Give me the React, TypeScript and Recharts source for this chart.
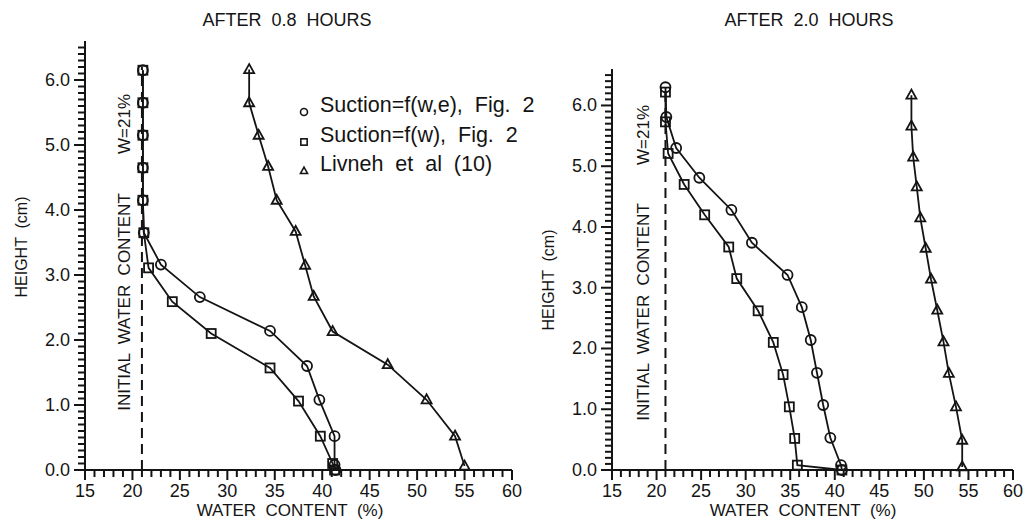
import React from 'react';
import { LineChart, Line, XAxis, YAxis, ReferenceLine, Legend } from 'recharts';

const FONT = "'Liberation Sans', Arial, sans-serif";
const INK = '#141414';

// axis ticks
const waterMajorTicks = [15, 20, 25, 30, 35, 40, 45, 50, 55, 60];
const heightMajorTicks = [0, 1, 2, 3, 4, 5, 6];
const waterTicks: number[] = [];
for (let w = 15; w <= 60; w++) waterTicks.push(w);
const heightTicks: number[] = [];
for (let i = 0; i <= 65; i++) heightTicks.push(i / 10);

const initialWater = 21;

const seriesNames = ['Suction=f(w,e),  Fig.  2', 'Suction=f(w),  Fig.  2', 'Livneh  et  al  (10)'];
const seriesShapes = ['circle', 'square', 'triangle'];

// after 0.8 hours
const h08Circle = [6.15, 5.65, 5.15, 4.65, 4.15, 3.65, 3.16, 2.66, 2.14, 1.6, 1.08, 0.52, 0.08, 0.0];
const w08Circle = [21.1, 21.1, 21.1, 21.1, 21.1, 21.2, 23.0, 27.1, 34.5, 38.4, 39.7, 41.3, 41.3, 41.4];
const h08Square = [6.15, 5.65, 5.15, 4.65, 4.15, 3.65, 3.11, 2.59, 2.1, 1.57, 1.06, 0.52, 0.1, 0.0];
const w08Square = [21.1, 21.1, 21.1, 21.1, 21.1, 21.2, 21.7, 24.2, 28.3, 34.5, 37.5, 39.8, 41.1, 41.3];
const h08Tri = [6.16, 5.65, 5.15, 4.67, 4.15, 3.67, 3.15, 2.67, 2.13, 1.62, 1.08, 0.52, 0.06];
const w08Tri = [32.3, 32.3, 33.3, 34.3, 35.2, 37.2, 38.2, 39.1, 41.1, 46.9, 51.0, 54.0, 55.0];

// after 2.0 hours
const h20Circle = [6.3, 5.81, 5.3, 4.81, 4.28, 3.74, 3.21, 2.68, 2.14, 1.6, 1.07, 0.53, 0.08, 0.0];
const w20Circle = [21.0, 21.1, 22.2, 24.8, 28.4, 30.7, 34.7, 36.3, 37.3, 38.0, 38.7, 39.5, 40.7, 40.8];
const h20Square = [6.22, 5.73, 5.21, 4.7, 4.2, 3.67, 3.15, 2.62, 2.1, 1.57, 1.04, 0.52, 0.08, 0.0];
const w20Square = [21.0, 21.0, 21.3, 23.1, 25.4, 28.1, 29.0, 31.4, 33.1, 34.2, 34.9, 35.5, 35.8, 40.8];
const h20Tri = [6.17, 5.66, 5.15, 4.66, 4.15, 3.65, 3.14, 2.63, 2.11, 1.59, 1.04, 0.49, 0.05];
const w20Tri = [48.6, 48.6, 48.8, 49.2, 49.6, 50.2, 50.8, 51.5, 52.2, 52.8, 53.6, 54.3, 54.3];

const toPoints = (h: number[], w: number[]) => h.map((v, i) => ({ h: v, w: w[i] }));

const panel08 = [toPoints(h08Circle, w08Circle), toPoints(h08Square, w08Square), toPoints(h08Tri, w08Tri)];
const panel20 = [toPoints(h20Circle, w20Circle), toPoints(h20Square, w20Square), toPoints(h20Tri, w20Tri)];

function Marker({ cx, cy, shape, size, sw = 1.8 }: any) {
  if (cx == null || cy == null) return null;
  const common = { fill: 'none', stroke: INK, strokeWidth: sw };
  if (shape === 'circle') return <circle cx={cx} cy={cy} r={size} {...common} />;
  if (shape === 'square')
    return <rect x={cx - size * 0.9} y={cy - size * 0.9} width={size * 1.8} height={size * 1.8} {...common} />;
  return (
    <polygon
      points={`${cx},${cy - size * 1.1} ${cx - size},${cy + size * 0.7} ${cx + size},${cy + size * 0.7}`}
      {...common}
    />
  );
}

const isMajor = (v: number, majors: number[]) => majors.some(m => Math.abs(m - v) < 1e-6);

function WaterTick(props: any) {
  const { x, y, payload } = props;
  const major = isMajor(payload.value, waterMajorTicks);
  return (
    <g>
      <line x1={x} x2={x} y1={y} y2={y + (major ? 10 : 7)} stroke={INK} strokeWidth={2} />
      {major && (
        <text x={x} y={y + 21} textAnchor="middle" dominantBaseline="central" fontSize={18} fontFamily={FONT} fill={INK}>
          {payload.value}
        </text>
      )}
    </g>
  );
}

function HeightTick(props: any) {
  const { x, y, payload } = props;
  const major = isMajor(payload.value, heightMajorTicks);
  return (
    <g>
      <line x1={x - (major ? 11 : 7)} x2={x} y1={y} y2={y} stroke={INK} strokeWidth={2} />
      {major && (
        <text x={x - 15} y={y} textAnchor="end" dominantBaseline="central" fontSize={18} fontFamily={FONT} fill={INK}>
          {payload.value.toFixed(1)}
        </text>
      )}
    </g>
  );
}

function LegendBox({ payload }: any) {
  return (
    <div style={{ fontFamily: FONT, fontSize: 21.5, color: INK }}>
      {(payload || []).map((entry: any) => {
        const shape = seriesShapes[seriesNames.indexOf(entry.value)];
        return (
          <div key={entry.value} style={{ display: 'flex', alignItems: 'center', height: 29.5 }}>
            <svg width={24} height={29} style={{ flex: 'none' }}>
              <Marker cx={8} cy={21} shape={shape} size={3.5} sw={1.6} />
            </svg>
            <span style={{ whiteSpace: 'pre' }}>{entry.value}</span>
          </div>
        );
      })}
    </div>
  );
}

function Panel({ data, width, axisWidth, top, right, dashTop, legend }: any) {
  return (
    <LineChart width={width} height={523} margin={{ top, right, bottom: 0, left: 0 }}>
      <XAxis
        type="number"
        dataKey="w"
        domain={[15, 60]}
        ticks={waterTicks}
        interval={0}
        height={53}
        tickSize={0}
        tickMargin={0}
        tickLine={false}
        tick={WaterTick}
        axisLine={{ stroke: INK, strokeWidth: 2 }}
      />
      <YAxis
        type="number"
        domain={[0, 6.6]}
        ticks={heightTicks}
        interval={0}
        width={axisWidth}
        tickSize={0}
        tickMargin={0}
        tickLine={false}
        tick={HeightTick}
        axisLine={{ stroke: INK, strokeWidth: 2 }}
      />
      <ReferenceLine
        segment={[{ x: initialWater, y: 0 }, { x: initialWater, y: dashTop }]}
        stroke={INK}
        strokeWidth={2}
        strokeDasharray="10 6"
      />
      {data.map((pts: any, i: number) => (
        <Line
          key={seriesNames[i]}
          name={seriesNames[i]}
          data={pts}
          dataKey="h"
          stroke={INK}
          strokeWidth={1.8}
          isAnimationActive={false}
          activeDot={false}
          legendType="none"
          dot={(p: any) => <Marker key={`${i}-${p.index}`} cx={p.cx} cy={p.cy} shape={seriesShapes[i]} size={5} />}
        />
      ))}
      {legend && (
        <Legend
          layout="vertical"
          align="center"
          verticalAlign="middle"
          wrapperStyle={{ left: 296, top: 91, width: 270 }}
          content={() => <LegendBox payload={seriesNames.map(n => ({ value: n }))} />}
        />
      )}
    </LineChart>
  );
}

function Txt({ x, y, size, rotate, children }: any) {
  return (
    <div
      style={{
        position: 'absolute',
        left: x,
        top: y,
        fontFamily: FONT,
        fontSize: size,
        color: INK,
        whiteSpace: 'pre',
        lineHeight: 1,
        transform: `translate(-50%, -50%)${rotate ? ' rotate(-90deg)' : ''}`,
      }}
    >
      {children}
    </div>
  );
}

export default function App() {
  return (
    <div style={{ position: 'absolute', left: 0, top: 0, width: 1026, height: 523, background: '#fff' }}>
      <div style={{ position: 'absolute', left: 0, top: 0 }}>
        <Panel data={panel08} width={535} axisWidth={85} top={41} right={23} dashTop={6.2} legend />
      </div>
      <div style={{ position: 'absolute', left: 535, top: 0 }}>
        <Panel data={panel20} width={491} axisWidth={77} top={69} right={13} dashTop={6.3} />
      </div>

      <Txt x={287} y={20} size={18}>AFTER  0.8  HOURS</Txt>
      <Txt x={809} y={20} size={18}>AFTER  2.0  HOURS</Txt>

      <Txt x={290} y={510} size={17}>WATER  CONTENT  (%)</Txt>
      <Txt x={803} y={510} size={17}>WATER  CONTENT  (%)</Txt>

      <Txt x={22} y={247} size={16} rotate>HEIGHT  (cm)</Txt>
      <Txt x={549} y={280} size={16} rotate>HEIGHT  (cm)</Txt>

      <Txt x={124} y={302} size={17} rotate>INITIAL  WATER  CONTENT</Txt>
      <Txt x={124} y={124} size={17} rotate>W=21%</Txt>
      <Txt x={643} y={312} size={17} rotate>INITIAL  WATER  CONTENT</Txt>
      <Txt x={643} y={135} size={17} rotate>W=21%</Txt>
    </div>
  );
}
